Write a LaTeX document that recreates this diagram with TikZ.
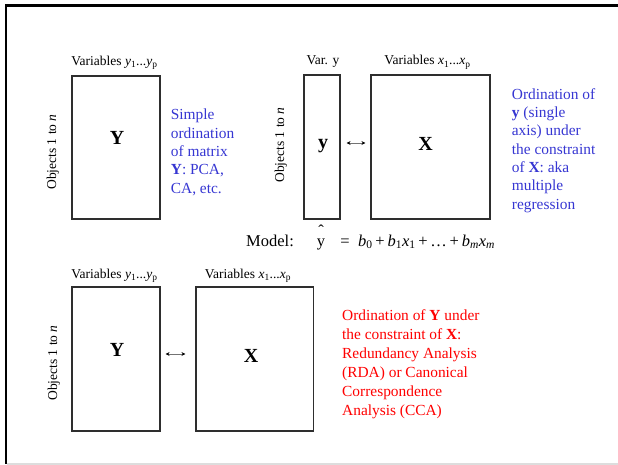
\documentclass[tikz,border=0pt]{standalone}
\usepackage{fontspec}
\setmainfont{Liberation Serif}
\usetikzlibrary{arrows.meta}
\definecolor{ordblue}{HTML}{3636D2}
\definecolor{ordred}{HTML}{FF0000}
\definecolor{boxline}{HTML}{2E2E2E}
\definecolor{footline}{HTML}{DDDDDD}
\newcommand{\vars}[1]{\textit{#1}\textsubscript{1}...\textit{#1}\textsubscript{p}}
\begin{document}
\begin{tikzpicture}[x=1pt,y=-1pt,
  matbox/.style={draw=boxline, line width=1.1pt, inner sep=0pt},
  collabel/.style={anchor=base, inner sep=0pt, font=\fontsize{13.5}{16}\selectfont},
  rowlabel/.style={anchor=base, rotate=90, inner sep=0pt, font=\fontsize{13.5}{16}\selectfont},
  bigletter/.style={anchor=base, inner sep=0pt, font=\fontsize{20}{24}\selectfont\bfseries},
  note/.style={anchor=base west, inner sep=0pt, font=\fontsize{15.4}{18.3}\selectfont},
  modeltext/.style={anchor=base, inner sep=0pt, font=\fontsize{16.5}{20}\selectfont},
  linkarrow/.style={{Stealth[length=4pt,width=4pt,color=black]}-{Stealth[length=4pt,width=4pt,color=black]}, line width=0.9pt, draw=black!55}]
\useasboundingbox (0,0) rectangle (618,465);

% slide frame
\draw[line width=2.7pt, line join=miter] (618,5.3) -- (6,5.3) -- (6,463.5);
\draw[footline, line width=1.6pt] (7.3,464.2) -- (618,464.2);

% ---- top left: simple ordination of Y
\node[matbox, minimum width=88pt, minimum height=143pt] (Ya) at (116,147.5) {};
\node[bigletter] (Yaname) at (117,145) {Y};
\node[collabel] (Yavars) at (114.5,65.7) {Variables \vars{y}};
\node[rowlabel] (Yarows) at (56,152) {Objects 1 to \textit{n}};
\node[note, text=ordblue] (Yanote) at (170.7,120) {\parbox[t]{120pt}{\raggedright
  Simple\\ordination\\of matrix\\\textbf{Y}: PCA,\\CA, etc.}};

% ---- top right: multiple regression
\node[matbox, minimum width=36pt, minimum height=144pt] (yb) at (322,147) {};
\node[matbox, minimum width=119pt, minimum height=144pt] (Xb) at (430.5,147) {};
\node[bigletter] (ybname) at (323,148.5) {y};
\node[bigletter] (Xbname) at (425.5,151) {X};
\node[collabel] (ybvars) at (323,65) {Var. y};
\node[collabel] (Xbvars) at (427.5,65) {Variables \vars{x}};
\node[rowlabel] (ybrows) at (284,145) {Objects 1 to \textit{n}};
\draw[linkarrow, shorten <=6pt, shorten >=5pt] ([yshift=4pt]yb.east) -- ([yshift=4pt]Xb.west);
\node[note, text=ordblue] (ybnote) at (511.7,99.3) {\parbox[t]{120pt}{\raggedright
  Ordination of\\\textbf{y} (single\\axis) under\\the constraint\\of \textbf{X}: aka\\multiple\\regression}};

% regression model
\node[modeltext, anchor=base west] (model) at (246,246) {Model:};
\node[modeltext] (yhat) at (321,246) {\makebox[0pt][l]{\hspace{1.4pt}\raisebox{10pt}{ˆ}}y};
\node[modeltext] (eq) at (345,246) {=};
\node[modeltext, anchor=base west] (rhs) at (358,246)
  {\textit{b}\textsubscript{0}\,+\,\textit{b}\textsubscript{1}\textit{x}\textsubscript{1}\,+\,…\,+\,\textit{b}\textsubscript{\textit{m}}\textit{x}\textsubscript{\textit{m}}};

% ---- bottom: canonical ordination
\node[matbox, minimum width=88pt, minimum height=144pt] (Yc) at (116,359) {};
\node[matbox, minimum width=117.5pt, minimum height=144pt] (Xc) at (254.75,359) {};
\node[bigletter] (Ycname) at (117,356.5) {Y};
\node[bigletter] (Xcname) at (251,362) {X};
\node[collabel] (Ycvars) at (114.5,278) {Variables \vars{y}};
\node[collabel] (Xcvars) at (248,278) {Variables \vars{x}};
\node[rowlabel] (Ycrows) at (57,363) {Objects 1 to \textit{n}};
\draw[linkarrow, shorten <=5pt, shorten >=10pt] ([yshift=5pt]Yc.east) -- ([yshift=5pt]Xc.west);
\node[note, text=ordred, font=\fontsize{15.4}{19}\selectfont] (Xcnote) at (342,320) {\parbox[t]{150pt}{\raggedright
  Ordination of \textbf{Y} under\\the constraint of \textbf{X}:\\Redundancy Analysis\\(RDA) or Canonical\\Correspondence\\Analysis (CCA)}};
\end{tikzpicture}
\end{document}
